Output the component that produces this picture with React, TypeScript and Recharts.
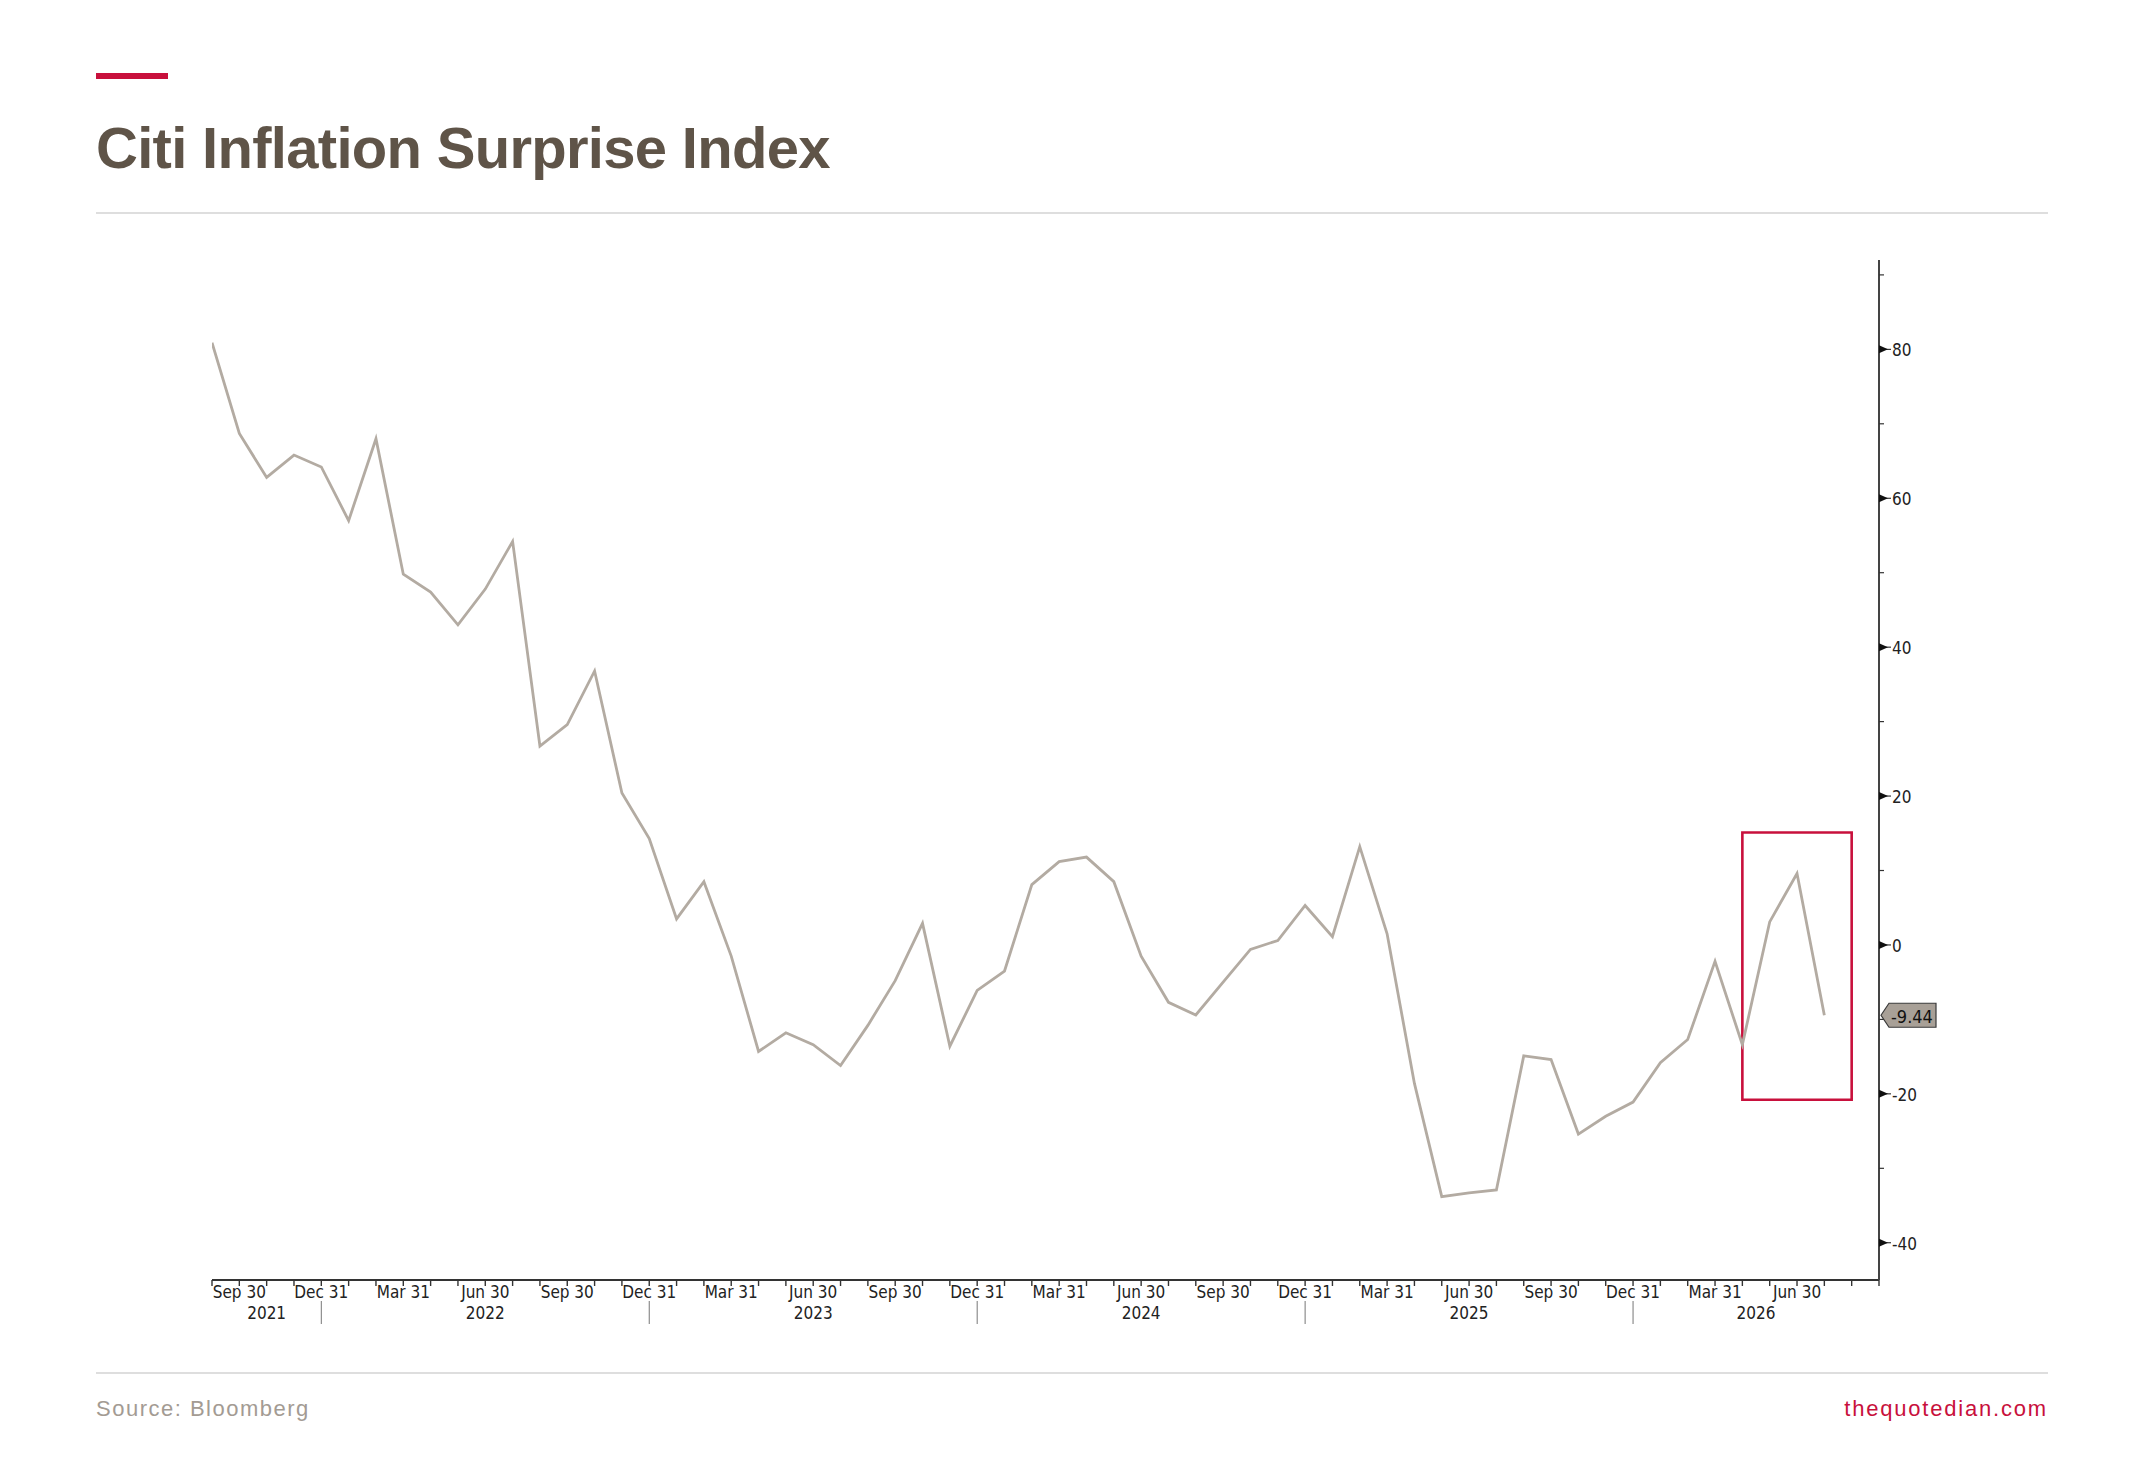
import React from 'react';
import { LineChart, Line, XAxis, YAxis, ReferenceArea } from 'recharts';

// monthly readings, end of month, starting Aug 2021
const firstMonth = { year: 2021, month: 8 };
const surprise = [
  80.9, 68.7, 62.8, 65.8, 64.2,
  57.0, 68.0, 49.8, 47.4, 43.0, 47.8, 54.2, 26.7, 29.6, 36.8, 20.4, 14.3,
  3.5, 8.5, -1.5, -14.3, -11.8, -13.4, -16.2, -10.8, -4.8, 2.9, -13.6, -6.1,
  -3.5, 8.1, 11.2, 11.8, 8.5, -1.5, -7.7, -9.4, -5.0, -0.6, 0.6, 5.3,
  1.1, 13.2, 1.5, -18.6, -33.8, -33.3, -32.9, -14.9, -15.4, -25.4, -23.0, -21.1,
  -15.8, -12.7, -2.2, -13.4, 3.1, 9.6, -9.44,
];
const axisEnd = { year: 2026, month: 9 };
const quarterEndLabels: Record<number, string> = { 3: 'Mar 31', 6: 'Jun 30', 9: 'Sep 30', 12: 'Dec 31' };
const yTicks = [-40, -30, -20, -10, 0, 10, 20, 30, 40, 50, 60, 70, 80, 90];
const yDomain = [-45, 92];

// highlighted window
const highlightFrom = { year: 2026, month: 4 };
const highlightTo = { year: 2026, month: 8 };
const highlightLow = -20.8;
const highlightHigh = 15.1;

const monthIndex = (m: { year: number; month: number }) =>
  (m.year - firstMonth.year) * 12 + (m.month - firstMonth.month);

const monthAt = (i: number) => {
  const total = firstMonth.year * 12 + (firstMonth.month - 1) + i;
  return { year: Math.floor(total / 12), month: (total % 12) + 1 };
};

const data = surprise.map((value, idx) => ({ idx, value }));
const lastValue = surprise[surprise.length - 1];
const endIdx = monthIndex(axisEnd);

// year labels sit in the middle of each year's span on the axis
const yearCenters = new Map<number, number>();
for (let yr = firstMonth.year; yr <= axisEnd.year; yr++) {
  const start = Math.max(0, monthIndex({ year: yr - 1, month: 12 }));
  const end = Math.min(endIdx, monthIndex({ year: yr, month: 12 }));
  yearCenters.set((start + end) / 2, yr);
}

const xTicks = Array.from(
  new Set([...Array.from({ length: endIdx + 1 }, (_, i) => i), ...yearCenters.keys()])
).sort((a, b) => a - b);

const axisFont = "'DejaVu Sans Condensed', 'DejaVu Sans', sans-serif";
const crimson = '#c8103c';

const XTick = (props: any) => {
  const { x, y, payload } = props;
  const v = payload.value;
  const parts: React.ReactNode[] = [];
  if (Number.isInteger(v)) {
    const { month } = monthAt(v);
    parts.push(<line key="t" x1={x} x2={x} y1={y} y2={y + 6} stroke="#333" strokeWidth={1.4} />);
    if (quarterEndLabels[month] && v < endIdx) {
      parts.push(
        <text key="q" x={x} y={y + 18} textAnchor="middle" fontSize={17} fill="#222"
          fontFamily={axisFont} style={{ fontStretch: 'condensed' }}>
          {quarterEndLabels[month]}
        </text>
      );
    }
    if (month === 12) {
      parts.push(<line key="s" x1={x} x2={x} y1={y + 21} y2={y + 44} stroke="#777" strokeWidth={1} />);
    }
  }
  const yr = yearCenters.get(v);
  if (yr) {
    parts.push(
      <text key="y" x={x} y={y + 39} textAnchor="middle" fontSize={17} fill="#222"
        fontFamily={axisFont} style={{ fontStretch: 'condensed' }}>
        {yr}
      </text>
    );
  }
  return <g>{parts}</g>;
};

const YTick = (props: any) => {
  const { x, y, payload } = props;
  const v = payload.value;
  if (v === lastValue) {
    return (
      <g>
        <polygon
          points={`${x + 2},${y} ${x + 10},${y - 12} ${x + 57},${y - 12} ${x + 57},${y + 12} ${x + 10},${y + 12}`}
          fill="#a8a097" stroke="#3a3a3a" strokeWidth={1.2}
        />
        <text x={x + 12} y={y + 1} dominantBaseline="central" fontSize={18} fill="#111"
          fontFamily={axisFont} style={{ fontStretch: 'condensed' }}>
          {v.toFixed(2)}
        </text>
      </g>
    );
  }
  if (v % 20 === 0) {
    return (
      <g>
        <polygon points={`${x},${y - 4} ${x + 9},${y} ${x},${y + 4}`} fill="#111" />
        <line x1={x} x2={x + 12} y1={y} y2={y} stroke="#111" strokeWidth={1} />
        <text x={x + 13} y={y + 1} dominantBaseline="central" fontSize={17} fill="#222"
          fontFamily={axisFont} style={{ fontStretch: 'condensed' }}>
          {v}
        </text>
      </g>
    );
  }
  return <line x1={x} x2={x + 5} y1={y} y2={y} stroke="#333" strokeWidth={1.2} />;
};

const App = () => {
  return (
    <div style={{ position: 'absolute', left: 0, top: 0, width: 2145, height: 1458, background: '#fff',
      fontFamily: "'Liberation Sans', Arial, sans-serif" }}>
      <div style={{ position: 'absolute', left: 96, top: 73, width: 72, height: 6, background: crimson }} />
      <div style={{ position: 'absolute', left: 96, top: 119, fontSize: 58, lineHeight: 1, fontWeight: 700,
        color: '#5f5448', letterSpacing: -0.7, whiteSpace: 'nowrap' }}>
        Citi Inflation Surprise Index
      </div>
      <div style={{ position: 'absolute', left: 96, top: 212, width: 1952, height: 2, background: '#dedede' }} />

      <div style={{ position: 'absolute', left: 0, top: 0 }}>
        <LineChart
          width={2145}
          height={1458}
          data={data}
          margin={{ top: 260, left: 212, right: 186, bottom: 118 }}
        >
          <XAxis
            dataKey="idx"
            type="number"
            domain={[0, endIdx]}
            allowDataOverflow
            ticks={xTicks}
            interval={0}
            tick={<XTick />}
            tickLine={false}
            tickSize={0}
            tickMargin={0}
            height={60}
            axisLine={{ stroke: '#333', strokeWidth: 2 }}
          />
          <YAxis
            orientation="right"
            type="number"
            domain={yDomain}
            allowDataOverflow
            ticks={[...yTicks, lastValue]}
            interval={0}
            tick={<YTick />}
            tickLine={false}
            tickSize={0}
            tickMargin={0}
            width={80}
            axisLine={{ stroke: '#444', strokeWidth: 2 }}
          />
          <Line
            type="linear"
            dataKey="value"
            stroke="#b3aba2"
            strokeWidth={2.8}
            dot={false}
            isAnimationActive={false}
          />
          <ReferenceArea
            x1={monthIndex(highlightFrom)}
            x2={monthIndex(highlightTo)}
            y1={highlightLow}
            y2={highlightHigh}
            fill="none"
            fillOpacity={0}
            stroke={crimson}
            strokeWidth={2.6}
            ifOverflow="visible"
          />
        </LineChart>
      </div>

      <div style={{ position: 'absolute', left: 96, top: 1372, width: 1952, height: 2, background: '#dedede' }} />
      <div style={{ position: 'absolute', left: 96, top: 1398, fontSize: 22, lineHeight: '22px',
        color: '#a39b93', letterSpacing: 1.5 }}>
        Source: Bloomberg
      </div>
      <div style={{ position: 'absolute', right: 97, top: 1398, fontSize: 22, lineHeight: '22px',
        color: crimson, letterSpacing: 1.8 }}>
        thequotedian.com
      </div>
    </div>
  );
};

export default App;
